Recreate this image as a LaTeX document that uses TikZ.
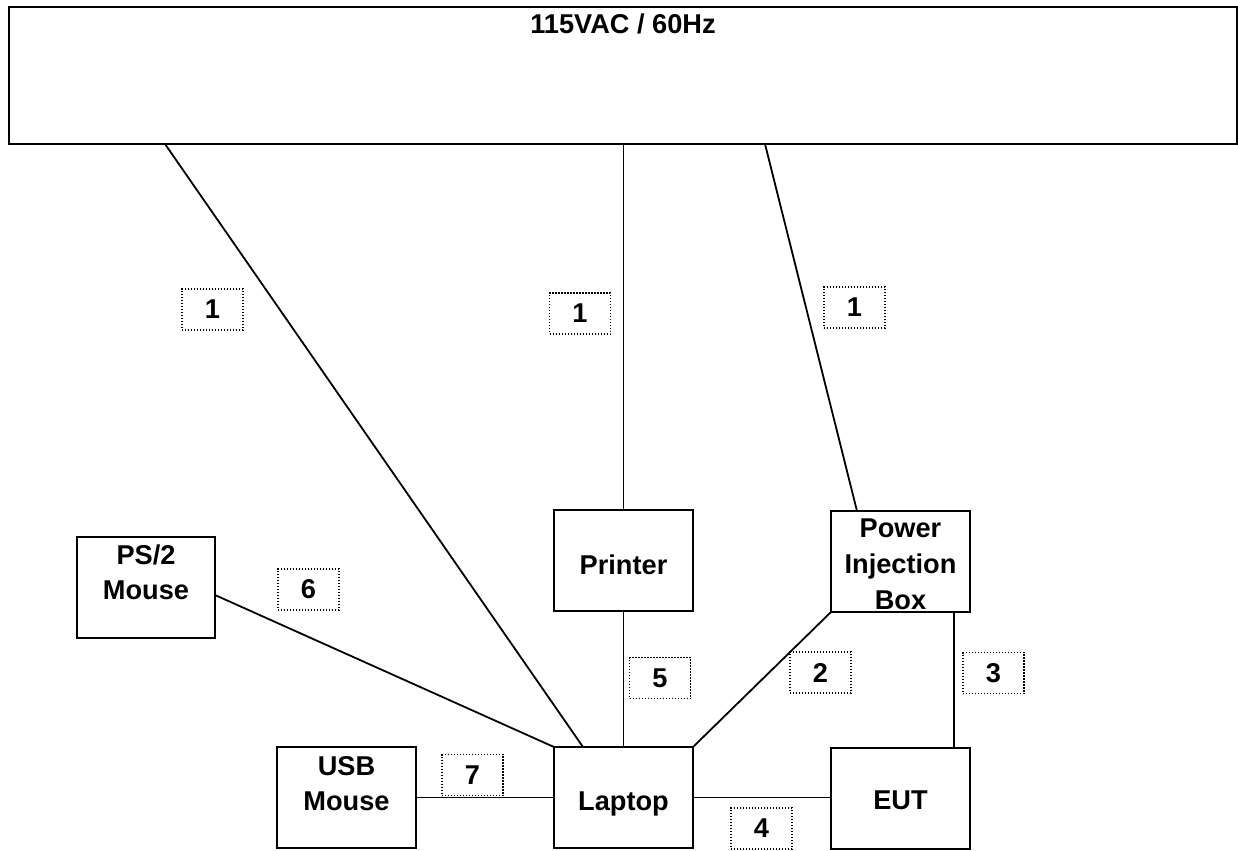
\documentclass[tikz,border=0pt]{standalone}
\usepackage{fontspec}
\setmainfont{Liberation Sans}
\begin{document}
\begin{tikzpicture}[x=0.5pt,y=-0.5pt,
  box/.style={draw, line width=1.3pt, inner sep=0pt, outer sep=0pt, anchor=north west},
  txt/.style={anchor=base, inner sep=0pt, font=\bfseries\fontsize{13.6}{16}\selectfont},
  tag/.style={draw, dash pattern=on 0.6pt off 0.9pt, line width=0.6pt, inner sep=0pt,
              minimum width=30.5pt, minimum height=20.5pt, font=\bfseries\fontsize{13.6}{16}\selectfont},
  wire/.style={line width=0.9pt}]
\useasboundingbox (0,0) rectangle (1238,851);
% boxes
\node[box, line width=1.1pt, minimum width=614pt, minimum height=68.5pt] (ac) at (9,7) {};
\node[box, minimum width=69pt, minimum height=50.5pt] (ps2) at (77,537) {};
\node[box, minimum width=69.5pt, minimum height=50.5pt] (printer) at (554,510) {};
\node[box, minimum width=69.5pt, minimum height=50.5pt] (pib) at (831,511) {};
\node[box, minimum width=69.5pt, minimum height=50.5pt] (usb) at (277,747) {};
\node[box, minimum width=69.5pt, minimum height=50.5pt] (laptop) at (554,747) {};
\node[box, minimum width=69.5pt, minimum height=50.5pt] (eut) at (831,748) {};
% texts
\node[txt] (tac) at (623,33) {115VAC / 60Hz};
\node[txt] (tps2a) at (146,564) {PS/2};
\node[txt] (tps2b) at (146,599) {Mouse};
\node[txt] (tprn) at (623.5,574) {Printer};
\node[txt] (tpiba) at (900.5,537) {Power};
\node[txt] (tpibb) at (900.5,573) {Injection};
\node[txt] (tpibc) at (900.5,609) {Box};
\node[txt] (tusba) at (346.5,775) {USB};
\node[txt] (tusbb) at (346.5,810) {Mouse};
\node[txt] (tlap) at (623.5,810) {Laptop};
\node[txt] (teut) at (900.5,809) {EUT};
% coordinates
\coordinate (a1) at (165,144);
\coordinate (a2) at (583,747);
\coordinate (b1) at (765,144);
\coordinate (b2) at (857,511);
\coordinate (m1) at (215,595);
% connectors
\draw[wire] (a1) -- (a2);
\draw[wire] (printer.north) -- (printer.north |- ac.south);
\draw[wire] (b1) -- (b2);
\draw[wire] (m1) -- (laptop.north west);
\draw[wire] (printer.south) -- (laptop.north);
\draw[wire] (laptop.north east) -- (pib.south west);
\draw[wire] ([xshift=-8pt]pib.south east) -- ([xshift=-8pt]eut.north east);
\draw[wire] (laptop.east) -- (laptop.east -| eut.west);
\draw[wire] (usb.east) -- (usb.east -| laptop.west);
% tags
\node[tag] (t1a) at (212.5,309.5) {1};
\node[tag] (t1b) at (580,313.5) {1};
\node[tag] (t1c) at (854.5,307.5) {1};
\node[tag] (t6) at (308.5,589.5) {6};
\node[tag] (t5) at (660,678) {5};
\node[tag] (t2) at (820.5,672.5) {2};
\node[tag] (t3) at (993.5,673) {3};
\node[tag] (t7) at (472.5,775) {7};
\node[tag] (t4) at (761.5,828.5) {4};
\end{tikzpicture}
\end{document}
